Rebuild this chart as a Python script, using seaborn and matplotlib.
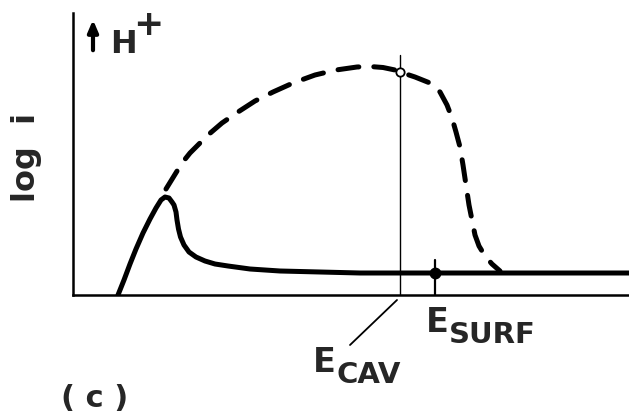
import numpy as np
import pandas as pd
import seaborn as sns
import matplotlib
matplotlib.use("Agg")
import matplotlib.pyplot as plt

# ---- data (arbitrary units: potential E along x, log i along y) ----
solid_E = [45, 51, 57, 63, 70, 77, 83, 88, 92, 96, 99, 101, 103, 104, 105.5, 107.5,
           111, 116, 123, 132, 142, 155, 177, 207, 247, 287, 556]
solid_logi = [0, 15, 31, 46, 62, 76, 87, 95, 98, 97, 93, 90, 83, 75, 66, 58,
              50, 43, 38, 34, 31, 29, 26, 24, 23, 22, 22]

dashed_E = [93, 101, 109, 117, 126, 135, 149, 165, 182, 200, 220, 242, 263, 284,
            297, 310, 322, 327, 342, 357, 367, 374, 379, 383, 387, 390, 393, 396,
            399, 402, 406, 412, 419, 427]
dashed_logi = [106, 119, 132, 142, 151, 160, 172, 183, 194, 203, 212, 220, 225, 228,
               228.5, 227.5, 225, 223, 218, 212, 203, 190, 177, 163, 148, 130, 110, 90,
               75, 60, 49, 39, 31, 24]

E_cav = 327
E_cav_logi = 223
E_surf = 362
E_surf_logi = 22

sns.set_style("white")
plt.rcParams['font.family'] = ['DejaVu Sans']

fig = plt.figure(figsize=(6.29, 4.19), dpi=100)
ax = fig.add_axes([73/629, 124/419, 556/629, 282/419])

sns.lineplot(x=solid_E, y=solid_logi, sort=False, estimator=None, ax=ax,
             color='black', linewidth=3.6, solid_capstyle='round', solid_joinstyle='round')
sns.lineplot(x=dashed_E, y=dashed_logi, sort=False, estimator=None, ax=ax,
             color='black', linewidth=3.6, linestyle=(0, (4.2, 3.0)),
             dash_capstyle='round')

# E_CAV vertical line and open circle
ax.plot([E_cav, E_cav], [0, 240], color='black', linewidth=1.0)
ax.plot([E_cav], [E_cav_logi], marker='o', markersize=6, markerfacecolor='white',
        markeredgecolor='black', markeredgewidth=1.3, zorder=5)
# E_SURF tick and filled dot
ax.plot([E_surf, E_surf], [0, 35], color='black', linewidth=1.6)
ax.plot([E_surf], [E_surf_logi], marker='o', markersize=7.5, color='black', zorder=5)

ax.set_xlim(0, 556)
ax.set_ylim(0, 282)
ax.set_xticks([])
ax.set_yticks([])
sns.despine(ax=ax, top=True, right=True)
for s in ['left', 'bottom']:
    ax.spines[s].set_linewidth(1.8)
    ax.spines[s].set_color('black')

# labels
ax.text(-46, 138, 'log  i', rotation=90, ha='center', va='center', fontsize=23,
        fontweight='bold', clip_on=False)
ax.annotate('', xy=(20, 278), xytext=(20, 242),
            arrowprops=dict(arrowstyle='-|>,head_length=0.7,head_width=0.3',
                            color='black', lw=3), annotation_clip=False)
ax.text(37, 242, 'H', ha='left', va='baseline', fontsize=23, fontweight='bold', clip_on=False)
ax.text(75, 270, '+', ha='center', va='center', fontsize=26, fontweight='bold', clip_on=False)

ax.text(353, -37, 'E', ha='left', va='baseline', fontsize=24, fontweight='bold', clip_on=False)
ax.text(376, -48, 'SURF', ha='left', va='baseline', fontsize=21, fontweight='bold', clip_on=False)
ax.text(240, -77, 'E', ha='left', va='baseline', fontsize=24, fontweight='bold', clip_on=False)
ax.text(263, -88, 'CAV', ha='left', va='baseline', fontsize=21, fontweight='bold', clip_on=False)
ax.plot([324, 277], [-5, -50], color='black', linewidth=1.3, clip_on=False)

ax.text(22, -103, '( c )', ha='center', va='center', fontsize=22, fontweight='bold', clip_on=False)

fig.savefig('out.png', dpi=100)
